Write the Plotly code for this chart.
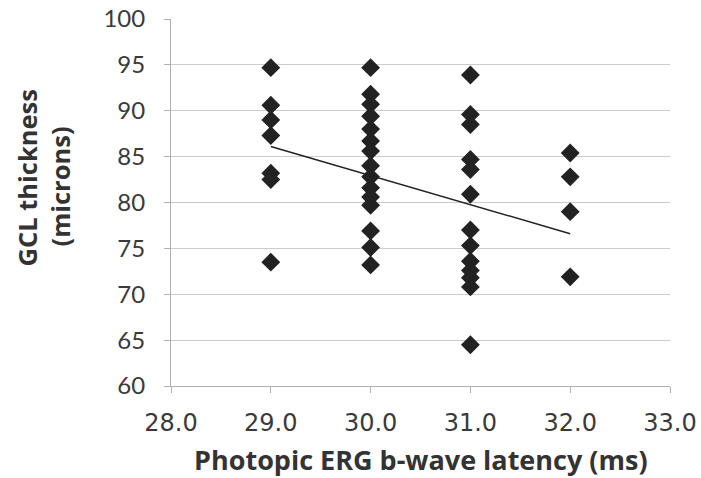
import plotly.graph_objects as go

# Data
latency_29 = [94.7, 90.6, 89.0, 87.3, 83.2, 82.5, 73.5]
latency_30 = [94.7, 91.8, 90.7, 89.4, 88.0, 86.7, 85.6, 84.0, 82.8, 81.6, 80.6, 79.7, 76.9, 75.1, 73.2]
latency_31 = [93.9, 89.6, 88.5, 84.7, 83.6, 80.9, 77.0, 75.3, 73.6, 72.6, 71.8, 70.8, 64.5]
latency_32 = [85.4, 82.8, 79.0, 71.9]
x_levels = [29.0, 30.0, 31.0, 32.0]
trend_x = [29.0, 32.0]
trend_y = [86.1, 76.6]
x_ticks = [28.0, 29.0, 30.0, 31.0, 32.0, 33.0]
x_ticklabels = ["28.0", "29.0", "30.0", "31.0", "32.0", "33.0"]
y_ticks = [60, 65, 70, 75, 80, 85, 90, 95, 100]

groups = [latency_29, latency_30, latency_31, latency_32]
xs, ys = [], []
for xv, vals in zip(x_levels, groups):
    xs += [xv] * len(vals)
    ys += vals

fig = go.Figure()
fig.add_trace(go.Scatter(
    x=xs, y=ys, mode="markers",
    marker=dict(symbol="diamond", size=14.5, color="#222222", line=dict(width=0)),
    showlegend=False, hoverinfo="skip"))
fig.add_trace(go.Scatter(
    x=trend_x, y=trend_y, mode="lines",
    line=dict(color="#222222", width=1.5),
    showlegend=False, hoverinfo="skip"))

fig.update_layout(
    width=701, height=478,
    margin=dict(l=171, r=31, t=19, b=92, autoexpand=False),
    paper_bgcolor="white", plot_bgcolor="white",
    xaxis=dict(
        range=[28, 33], tickvals=x_ticks, ticktext=x_ticklabels,
        showgrid=False, zeroline=False, automargin=False,
        showline=True, linecolor="#b0b0b0", linewidth=1,
        ticks="outside", ticklen=6, tickcolor="#b0b0b0",
        tickfont=dict(family="DejaVu Sans", size=24, color="#3a3a3a"),
        ticklabelstandoff=9,
    ),
    yaxis=dict(
        range=[60, 100], tickvals=y_ticks,
        showgrid=True, gridcolor="#cccccc", gridwidth=1,
        zeroline=False, automargin=False,
        showline=True, linecolor="#b0b0b0", linewidth=1,
        ticks="outside", ticklen=6, tickcolor="#b0b0b0",
        tickfont=dict(family="Lato", size=24, color="#3a3a3a"),
        ticklabelstandoff=14,
    ),
    annotations=[
        dict(text="<b>Photopic ERG b-wave latency (ms)</b>", xref="paper", yref="paper",
             x=0.5, y=0, xanchor="center", yanchor="middle", yshift=-73,
             showarrow=False, font=dict(family="Open Sans", size=27, color="#333333")),
        dict(text="<b>GCL thickness</b>", xref="paper", yref="paper",
             x=0, y=0.5, xanchor="center", yanchor="middle", xshift=-145, yshift=24,
             textangle=-90, showarrow=False,
             font=dict(family="Open Sans", size=25.5, color="#333333")),
        dict(text="<b>(microns)</b>", xref="paper", yref="paper",
             x=0, y=0.5, xanchor="center", yanchor="middle", xshift=-112, yshift=16,
             textangle=-90, showarrow=False,
             font=dict(family="Open Sans", size=25.5, color="#333333")),
    ],
)

fig.write_html("out.html", config={"displayModeBar": False},
               post_script="document.body.style.margin='0px';document.body.style.overflow='hidden';")
